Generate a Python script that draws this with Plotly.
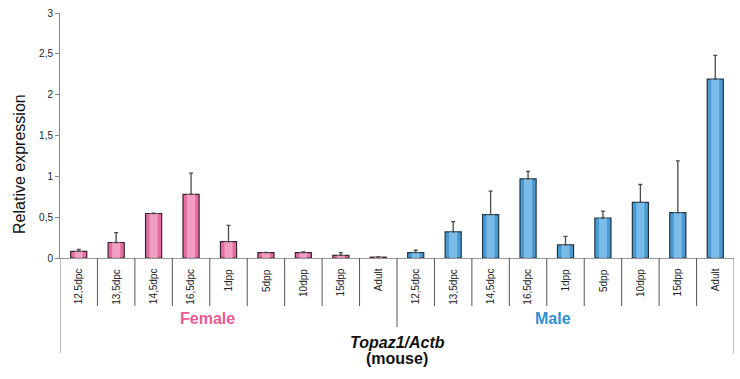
import plotly.graph_objects as go

categories = ["12,5dpc", "13,5dpc", "14,5dpc", "16,5dpc", "1dpp", "5dpp", "10dpp", "15dpp", "Adult"]
female_values = [0.08, 0.19, 0.545, 0.78, 0.20, 0.065, 0.065, 0.033, 0.01]
female_err_top = [0.105, 0.31, 0.55, 1.04, 0.40, 0.07, 0.075, 0.065, 0.012]
male_values = [0.065, 0.32, 0.53, 0.97, 0.16, 0.49, 0.68, 0.556, 2.19]
male_err_top = [0.095, 0.445, 0.82, 1.06, 0.265, 0.575, 0.90, 1.19, 2.48]
y_tick_vals = [0, 0.5, 1, 1.5, 2, 2.5, 3]
y_tick_text = ["0", "0,5", "1", "1,5", "2", "2,5", "3"]

n = len(categories)
x_f = list(range(n))
x_m = list(range(n, 2 * n))
all_labels = categories + categories

FONT = "Liberation Sans, Arial, sans-serif"
BAR_W = 0.43

fig = go.Figure()


def add_bars(xs, vals, base_col, light_col, line_col):
    fig.add_trace(go.Bar(
        x=xs, y=vals, width=BAR_W,
        marker=dict(color=base_col, line=dict(color=line_col, width=1.2)),
        showlegend=False, hoverinfo="skip",
    ))
    fig.add_trace(go.Bar(
        x=xs, y=vals, width=BAR_W * 0.5,
        marker=dict(color=light_col, line=dict(width=0)),
        showlegend=False, hoverinfo="skip", opacity=0.7,
    ))


add_bars(x_f, female_values, "#e36fa1", "#f7b3d0", "#3b2230")
add_bars(x_m, male_values, "#4b9ad3", "#8fcaf0", "#1e3447")

all_vals = female_values + male_values
all_tops = female_err_top + male_err_top
fig.add_trace(go.Scatter(
    x=x_f + x_m, y=all_vals, mode="markers",
    marker=dict(size=0.1, opacity=0),
    error_y=dict(type="data", symmetric=False,
                 array=[t - v for t, v in zip(all_tops, all_vals)],
                 arrayminus=[0] * (2 * n), color="#4a4a4a", thickness=1.3, width=2),
    showlegend=False, hoverinfo="skip",
))

annotations = []
for i, lab in enumerate(all_labels):
    annotations.append(dict(
        x=i, y=-0.035, xref="x", yref="paper", text=lab, showarrow=False,
        textangle=-90, xanchor="center", yanchor="top",
        font=dict(family=FONT, size=10, color="#222"),
    ))

annotations += [
    dict(x=3.43, y=-0.245, xref="x", yref="paper", text="<b>Female</b>", showarrow=False,
         font=dict(family=FONT, size=16, color="#ea5b93"), xanchor="center", yanchor="middle"),
    dict(x=12.67, y=-0.245, xref="x", yref="paper", text="<b>Male</b>", showarrow=False,
         font=dict(family=FONT, size=16, color="#2f8fd0"), xanchor="center", yanchor="middle"),
    dict(x=8.5, y=-0.343, xref="x", yref="paper", text="<b><i>Topaz1/Actb</i></b>", showarrow=False,
         font=dict(family=FONT, size=16, color="#111"), xanchor="center", yanchor="middle"),
    dict(x=8.5, y=-0.412, xref="x", yref="paper", text="<b>(mouse)</b>", showarrow=False,
         font=dict(family=FONT, size=16, color="#111"), xanchor="center", yanchor="middle"),
    dict(x=-0.0593, y=0.384, xref="paper", yref="paper", text="Relative expression", showarrow=False,
         textangle=-90, font=dict(family=FONT, size=16, color="#111"), xanchor="center", yanchor="middle"),
]

shapes = []
for k in range(2 * n - 1):
    xs = k + 0.5
    y1 = -0.282 if k == n - 1 else -0.196
    shapes.append(dict(type="line", xref="x", yref="paper", x0=xs, x1=xs, y0=0, y1=y1,
                       line=dict(color="#555", width=1)))
for xs in (-0.5, 2 * n - 0.5):
    shapes.append(dict(type="line", xref="x", yref="paper", x0=xs, x1=xs, y0=0, y1=-0.388,
                       line=dict(color="#777", width=1)))

fig.update_layout(
    width=740, height=379,
    margin=dict(l=60, r=6, t=13, b=121),
    paper_bgcolor="white", plot_bgcolor="white",
    barmode="overlay",
    xaxis=dict(range=[-0.5, 2 * n - 0.5], showticklabels=False, ticks="", showgrid=False,
               zeroline=False, showline=True, linecolor="#999", linewidth=1),
    yaxis=dict(range=[0, 3], tickvals=y_tick_vals, ticktext=y_tick_text, ticks="outside",
               ticklen=4, tickcolor="#888", showgrid=False, zeroline=False, showline=True,
               linecolor="#888", linewidth=1,
               tickfont=dict(family=FONT, size=10, color="#222")),
    annotations=annotations, shapes=shapes,
)

fig.write_html("out.html", config={"displayModeBar": False},
               post_script="document.body.style.margin='0';document.body.style.padding='0';")
